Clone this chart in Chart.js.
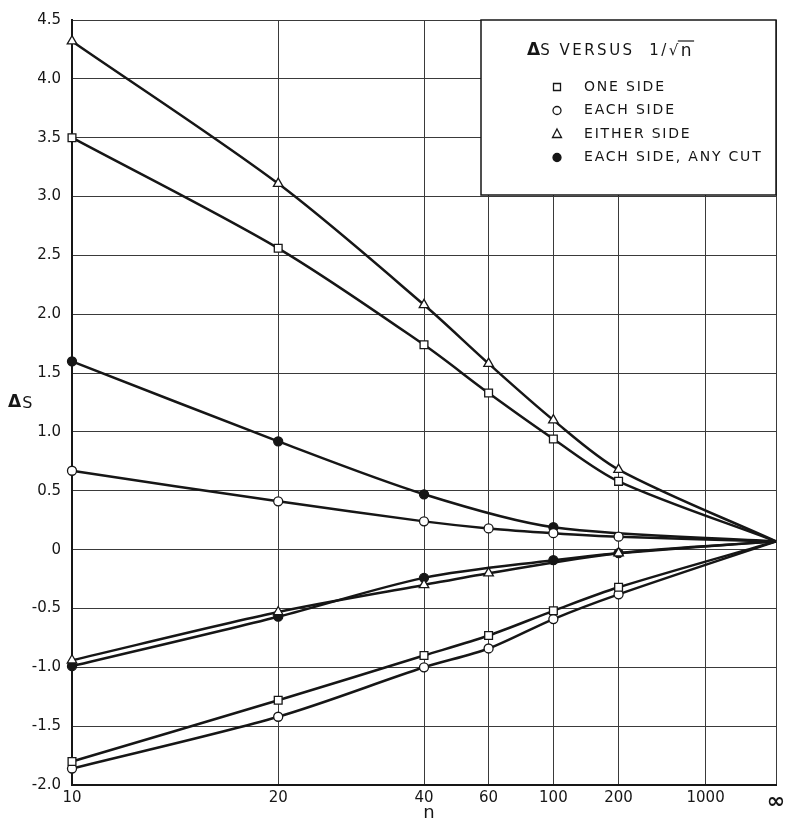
<!DOCTYPE html>
<html lang="en">
<head>
    <meta charset="UTF-8">
    <title>Delta S versus 1/sqrt(n)</title>
    <script src="https://cdn.jsdelivr.net/npm/chart.js"></script>
    <style>
        body {
            margin: 0;
            background: #ffffff;
        }
        .chart-box {
            width: 786px;
            height: 821px;
            position: relative;
        }
    </style>
</head>
<body>
    <div class="chart-box">
        <canvas id="deltaChart"></canvas>
    </div>

    <script>
        // x axis: n, plotted on a 1/sqrt(n) scale (infinity at the right edge)
        const nTicks = [10, 20, 40, 60, 100, 200, 1000, Infinity];
        const nTickLabels = ['10', '20', '40', '60', '100', '200', '1000', '\u221E'];
        const nPoints = [10, 20, 40, 60, 100, 200, Infinity];

        // values (null = no marker at that n)
        const oneSideUpper    = [3.50, 2.56, 1.74, 1.33, 0.94, 0.58, 0.07];
        const oneSideLower    = [-1.80, -1.28, -0.90, -0.73, -0.52, -0.32, 0.07];
        const eachSideUpper   = [0.67, 0.41, 0.24, 0.18, 0.14, 0.11, 0.07];
        const eachSideLower   = [-1.86, -1.42, -1.00, -0.84, -0.59, -0.38, 0.07];
        const eitherSideUpper = [4.32, 3.11, 2.08, 1.58, 1.10, 0.68, 0.07];
        const eitherSideLower = [-0.94, -0.53, -0.30, -0.20, null, -0.03, 0.07];
        const anyCutUpper     = [1.60, 0.92, 0.47, null, 0.19, null, 0.07];
        const anyCutLower     = [-0.99, -0.57, -0.24, null, -0.09, -0.03, 0.07];

        const seriesLabels = ['ONE SIDE', 'EACH SIDE', 'EITHER SIDE', 'EACH SIDE, ANY CUT'];

        const ink = '#161616';
        const markers = [
            { pointStyle: 'rect', radius: 5.5, fill: '#ffffff' },
            { pointStyle: 'circle', radius: 4.5, fill: '#ffffff' },
            { pointStyle: 'triangle', radius: 5.5, fill: '#ffffff' },
            { pointStyle: 'circle', radius: 4.5, fill: ink }
        ];

        function toPoints(values) {
            return nPoints
                .map((n, i) => ({ x: 1 / Math.sqrt(n), y: values[i] }))
                .filter(p => p.y !== null);
        }

        function makeDataset(values, s) {
            const m = markers[s];
            return {
                label: seriesLabels[s],
                data: toPoints(values),
                showLine: true,
                borderColor: ink,
                borderWidth: 2.5,
                tension: 0.3,
                pointStyle: m.pointStyle,
                pointRadius: ctx => (ctx.raw && ctx.raw.x === 0 ? 0 : m.radius),
                pointBackgroundColor: m.fill,
                pointBorderColor: ink,
                pointBorderWidth: 1.3,
                clip: false
            };
        }

        const font = '"DejaVu Sans", Arial, sans-serif';

        const overlayPlugin = {
            id: 'overlay',
            afterDraw(chart) {
                const ctx = chart.ctx;
                const ca = chart.chartArea;
                ctx.save();

                // legend box, top-right inside the plot
                const bx = ca.right - 295, by = ca.top, bw = 295, bh = 175;
                ctx.fillStyle = '#ffffff';
                ctx.fillRect(bx, by, bw, bh);
                ctx.strokeStyle = ink;
                ctx.lineWidth = 1.5;
                ctx.strokeRect(bx, by, bw, bh);

                ctx.fillStyle = ink;
                ctx.textBaseline = 'middle';
                ctx.textAlign = 'left';

                // title: ΔS VERSUS 1/√n
                let tx = bx + 46;
                const ty = by + 31;
                ctx.font = 'bold 17px ' + font;
                ctx.fillText('\u0394', tx, ty);
                tx += ctx.measureText('\u0394').width;
                ctx.font = '15px ' + font;
                ctx.letterSpacing = '2.5px';
                const part = 'S VERSUS  1/\u221A';
                ctx.fillText(part, tx, ty);
                tx += ctx.measureText(part).width;
                ctx.font = '17px ' + font;
                ctx.fillText('n', tx, ty + 1);
                const nw = ctx.measureText('n').width;
                ctx.beginPath();
                ctx.lineWidth = 1.2;
                ctx.moveTo(tx - 3, ty - 10);
                ctx.lineTo(tx + nw, ty - 10);
                ctx.stroke();

                // legend entries
                ctx.font = '14px ' + font;
                ctx.letterSpacing = '1.8px';
                seriesLabels.forEach((label, i) => {
                    const y = by + 67 + i * 23.5;
                    const mx = bx + 76;
                    const m = markers[i];
                    ctx.beginPath();
                    ctx.lineWidth = 1.3;
                    ctx.strokeStyle = ink;
                    ctx.fillStyle = m.fill;
                    if (m.pointStyle === 'rect') {
                        ctx.rect(mx - 3.5, y - 3.5, 7, 7);
                    } else if (m.pointStyle === 'triangle') {
                        ctx.moveTo(mx, y - 5);
                        ctx.lineTo(mx + 4.5, y + 3.5);
                        ctx.lineTo(mx - 4.5, y + 3.5);
                        ctx.closePath();
                    } else {
                        ctx.arc(mx, y, 4, 0, Math.PI * 2);
                    }
                    ctx.fill();
                    ctx.stroke();
                    ctx.fillStyle = ink;
                    ctx.fillText(label, bx + 103, y);
                });

                // axis titles
                ctx.letterSpacing = '0px';
                ctx.font = 'bold 17px ' + font;
                ctx.fillText('\u0394', 8, 403);
                const dw = ctx.measureText('\u0394').width;
                ctx.font = '16px ' + font;
                ctx.fillText('S', 8 + dw + 1, 404);

                ctx.textAlign = 'center';
                ctx.font = '18px ' + font;
                ctx.fillText('n', 429, 813);

                ctx.restore();
            }
        };

        const ctx = document.getElementById('deltaChart').getContext('2d');
        new Chart(ctx, {
            type: 'scatter',
            data: {
                datasets: [
                    makeDataset(oneSideUpper, 0),
                    makeDataset(oneSideLower, 0),
                    makeDataset(eachSideUpper, 1),
                    makeDataset(eachSideLower, 1),
                    makeDataset(eitherSideUpper, 2),
                    makeDataset(eitherSideLower, 2),
                    makeDataset(anyCutUpper, 3),
                    makeDataset(anyCutLower, 3)
                ]
            },
            options: {
                responsive: true,
                maintainAspectRatio: false,
                animation: false,
                layout: { padding: { left: 0, right: 10, top: 17, bottom: 0 } },
                plugins: {
                    legend: { display: false },
                    tooltip: { enabled: false }
                },
                scales: {
                    x: {
                        type: 'linear',
                        reverse: true,
                        min: 0,
                        max: 1 / Math.sqrt(10),
                        afterBuildTicks: scale => {
                            scale.ticks = nTicks.map(n => ({ value: 1 / Math.sqrt(n) }));
                        },
                        afterFit: scale => {
                            scale.height = 36;
                            scale.paddingLeft = 0;
                            scale.paddingRight = 0;
                        },
                        ticks: {
                            autoSkip: false,
                            maxRotation: 0,
                            padding: 4,
                            color: ink,
                            font: c => (c.index === nTicks.length - 1
                                ? { family: font, size: 22, weight: 'bold' }
                                : { family: font, size: 15 }),
                            callback: (value, index) => nTickLabels[index]
                        },
                        grid: { color: '#3a3a3a', lineWidth: 1, drawTicks: false },
                        border: { color: ink, width: 2 }
                    },
                    y: {
                        min: -2,
                        max: 4.5,
                        afterFit: scale => {
                            scale.width = 72;
                        },
                        ticks: {
                            stepSize: 0.5,
                            padding: 11,
                            color: ink,
                            font: { family: font, size: 15 },
                            callback: v => (v === 0 ? '0' : v.toFixed(1))
                        },
                        grid: { color: '#3a3a3a', lineWidth: 1, drawTicks: false },
                        border: { color: ink, width: 2 }
                    }
                }
            },
            plugins: [overlayPlugin]
        });
    </script>
</body>
</html>
